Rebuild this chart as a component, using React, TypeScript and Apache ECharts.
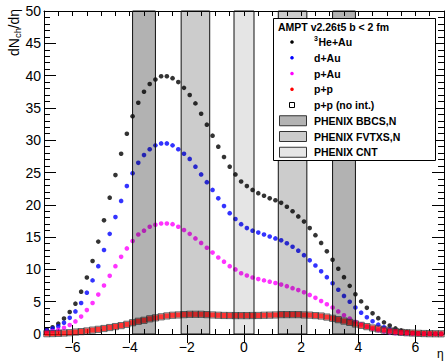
import React, { useEffect, useRef } from "react";
import * as echarts from "echarts";

const FONT = "'Liberation Sans', Arial, Helvetica, sans-serif";

// pseudorapidity bin centres
const eta = [
  -6.9, -6.7, -6.5, -6.3, -6.1, -5.9, -5.7, -5.5, -5.3, -5.1,
  -4.9, -4.7, -4.5, -4.3, -4.1, -3.9, -3.7, -3.5, -3.3, -3.1,
  -2.9, -2.7, -2.5, -2.3, -2.1, -1.9, -1.7, -1.5, -1.3, -1.1,
  -0.9, -0.7, -0.5, -0.3, -0.1, 0.1, 0.3, 0.5, 0.7, 0.9,
  1.1, 1.3, 1.5, 1.7, 1.9, 2.1, 2.3, 2.5, 2.7, 2.9,
  3.1, 3.3, 3.5, 3.7, 3.9, 4.1, 4.3, 4.5, 4.7, 4.9,
  5.1, 5.3, 5.5, 5.7, 5.9, 6.1, 6.3, 6.5, 6.7, 6.9,
];

const heAu = [
  0.7, 1.05, 1.6, 2.4, 3.4, 4.7, 6.55, 8.75, 11.3, 14.3,
  17.6, 21.1, 24.6, 27.9, 31.0, 33.7, 35.8, 37.5, 38.7, 39.4,
  39.9, 39.9, 39.6, 39.0, 38.1, 37.0, 35.7, 34.1, 32.4, 30.7,
  29.0, 27.4, 25.9, 24.7, 23.6, 22.9, 22.3, 21.8, 21.4, 21.0,
  20.7, 20.3, 19.7, 19.0, 18.2, 17.4, 16.4, 15.3, 14.1, 12.8,
  11.5, 10.1, 8.8, 7.45, 6.15, 5.05, 4.05, 3.2, 2.45, 1.8,
  1.3, 0.87, 0.56, 0.34, 0.2, 0.12, 0.08, 0.05, 0.03, 0.02,
];

const dAu = [
  0.55, 0.85, 1.2, 1.75, 2.5, 3.5, 4.8, 6.4, 8.3, 10.5,
  13.0, 15.5, 18.1, 20.6, 22.9, 24.9, 26.5, 27.7, 28.6, 29.2,
  29.5, 29.5, 29.2, 28.6, 27.9, 27.1, 25.9, 24.7, 23.5, 22.3,
  21.0, 19.8, 18.7, 17.8, 17.0, 16.4, 16.0, 15.7, 15.4, 15.1,
  14.8, 14.5, 14.05, 13.5, 12.9, 12.2, 11.4, 10.6, 9.7, 8.8,
  7.85, 6.85, 5.9, 5.0, 4.1, 3.3, 2.6, 1.97, 1.45, 1.04,
  0.72, 0.48, 0.3, 0.19, 0.12, 0.07, 0.04, 0.03, 0.02, 0.01,
];

const pAu = [
  0.35, 0.45, 0.65, 0.95, 1.4, 1.95, 2.7, 3.7, 4.8, 6.1,
  7.5, 9.0, 10.5, 11.95, 13.25, 14.4, 15.4, 16.0, 16.6, 16.9,
  17.1, 17.1, 17.0, 16.6, 16.1, 15.5, 14.8, 14.1, 13.35, 12.6,
  11.85, 11.2, 10.5, 10.0, 9.4, 9.05, 8.75, 8.5, 8.3, 8.1,
  7.9, 7.65, 7.4, 7.1, 6.8, 6.45, 6.05, 5.6, 5.1, 4.6,
  4.1, 3.5, 2.9, 2.4, 1.9, 1.5, 1.13, 0.83, 0.57, 0.37,
  0.22, 0.13, 0.08, 0.05, 0.03, 0.02, 0.01, 0.01, 0.0, 0.0,
];

const pp = [
  0.05, 0.07, 0.1, 0.15, 0.2, 0.3, 0.37, 0.47, 0.6, 0.72,
  0.85, 1.0, 1.15, 1.3, 1.5, 1.75, 1.97, 2.12, 2.35, 2.5,
  2.66, 2.8, 2.9, 2.95, 3.0, 3.05, 3.05, 3.05, 3.0, 2.95,
  2.9, 2.87, 2.86, 2.85, 2.85, 2.85, 2.86, 2.87, 2.9, 2.92,
  2.95, 3.0, 3.0, 3.0, 3.0, 2.95, 2.92, 2.85, 2.78, 2.62,
  2.43, 2.22, 2.0, 1.8, 1.55, 1.34, 1.14, 0.93, 0.78, 0.62,
  0.47, 0.36, 0.26, 0.2, 0.15, 0.1, 0.07, 0.05, 0.04, 0.03,
];

const ppNoInt = [
  0.05, 0.07, 0.1, 0.15, 0.2, 0.3, 0.37, 0.47, 0.6, 0.72,
  0.85, 1.0, 1.15, 1.3, 1.5, 1.75, 1.97, 2.12, 2.35, 2.5,
  2.66, 2.8, 2.9, 2.95, 3.0, 3.05, 3.05, 3.05, 3.0, 2.95,
  2.9, 2.87, 2.86, 2.85, 2.85, 2.85, 2.86, 2.87, 2.9, 2.92,
  2.95, 3.0, 3.0, 3.0, 3.0, 2.95, 2.92, 2.85, 2.78, 2.62,
  2.43, 2.22, 2.0, 1.8, 1.55, 1.34, 1.14, 0.93, 0.78, 0.62,
  0.47, 0.36, 0.26, 0.2, 0.15, 0.1, 0.07, 0.05, 0.04, 0.03,
];

// PHENIX acceptance bands [etaMin, etaMax]
const bbcBands = [[-3.9, -3.1], [3.1, 3.9]];
const fvtxBands = [[-2.2, -1.2], [1.2, 2.2]];
const cntBands = [[-0.35, 0.35]];

const xLabelValues = [-6, -4, -2, 0, 2, 4, 6];
const X_MIN = -7;
const X_MAX = 7;
const Y_MIN = 0;
const Y_MAX = 50;

function pts(ys: number[]) {
  return eta.map((x, i) => [x, ys[i]]);
}

function bandSeries(name: string, bands: number[][], alpha: number) {
  return {
    type: "custom",
    name,
    silent: true,
    z: 5,
    xAxisIndex: 0,
    yAxisIndex: 0,
    encode: { x: [0, 1] },
    data: bands.map((b) => [b[0], b[1]]),
    renderItem: (_params: any, api: any) => {
      const p0 = api.coord([api.value(0), Y_MAX]);
      const p1 = api.coord([api.value(1), Y_MIN]);
      return {
        type: "rect",
        shape: { x: p0[0], y: p0[1], width: p1[0] - p0[0], height: p1[1] - p0[1] },
        style: { fill: `rgba(0,0,0,${alpha})`, stroke: "#111", lineWidth: 1 },
      };
    },
  };
}

const fmt = (v: number) => (v < 0 ? "\u2212" + -v : String(v));

export default function App() {
  const ref = useRef<HTMLDivElement>(null);
  useEffect(() => {
    document.body.style.margin = "0";
    const chart = echarts.init(ref.current!, null, { renderer: "svg" });

    const xBase = {
      type: "value",
      min: X_MIN,
      max: X_MAX,
      interval: 0.5,
      splitLine: { show: false },
    };
    const yBase = {
      type: "value",
      min: Y_MIN,
      max: Y_MAX,
      interval: 5,
      splitLine: { show: false },
    };
    const line = { show: true, onZero: false, lineStyle: { color: "#000", width: 1 } };
    const tickStyle = { color: "#000", width: 1 };

    const rowY = [42, 57.75, 73.5, 89.25, 105, 120.75, 136.5, 152.25];
    const textX = 314;
    const markX = 292;
    const tstyle = (text: string, y: number, x = textX, size = 10.5) => ({
      type: "text",
      x,
      y,
      z: 102,
      style: {
        text,
        fill: "#000",
        font: `bold ${size}px ${FONT}`,
        fontSize: size,
        fontWeight: "bold",
        fontFamily: FONT,
        align: "left",
        textAlign: "left",
        verticalAlign: "middle",
        textVerticalAlign: "middle",
      },
    });
    const dot = (y: number, color: string) => ({
      type: "circle",
      z: 102,
      shape: { cx: markX, cy: y, r: 1.8 },
      style: { fill: color },
    });
    const swatch = (y: number, color: string) => ({
      type: "rect",
      z: 102,
      shape: { x: 279.5, y: y - 5, width: 27, height: 10 },
      style: { fill: color, stroke: "#333", lineWidth: 1 },
    });

    const option: any = {
      animation: false,
      backgroundColor: "#fff",
      grid: { left: 44, right: 2, top: 11, bottom: 27, show: false },
      xAxis: [
        {
          ...xBase,
          position: "bottom",
          axisLine: line,
          axisTick: { show: true, inside: true, length: 5, lineStyle: tickStyle },
          axisLabel: {
            show: true,
            customValues: xLabelValues,
            formatter: fmt,
            color: "#000",
            fontSize: 14,
            fontFamily: FONT,
            margin: 6,
          },
        },
        {
          ...xBase,
          position: "bottom",
          axisLine: { show: false },
          axisTick: { show: true, inside: true, length: 9, customValues: xLabelValues, lineStyle: tickStyle },
          axisLabel: { show: false },
        },
        {
          ...xBase,
          position: "top",
          axisLine: line,
          axisTick: { show: true, inside: true, length: 5, lineStyle: tickStyle },
          axisLabel: { show: false },
        },
        {
          ...xBase,
          position: "top",
          axisLine: { show: false },
          axisTick: { show: true, inside: true, length: 9, customValues: xLabelValues, lineStyle: tickStyle },
          axisLabel: { show: false },
        },
      ],
      yAxis: [
        {
          ...yBase,
          position: "left",
          axisLine: line,
          axisTick: { show: true, inside: true, length: 12, lineStyle: tickStyle },
          minorTick: { show: true, splitNumber: 5, length: 6, lineStyle: tickStyle },
          axisLabel: { show: true, color: "#000", fontSize: 14, fontFamily: FONT, margin: 3 },
        },
        {
          ...yBase,
          position: "right",
          axisLine: line,
          axisTick: { show: true, inside: true, length: 12, lineStyle: tickStyle },
          minorTick: { show: true, splitNumber: 5, length: 6, lineStyle: tickStyle },
          axisLabel: { show: false },
        },
      ],
      series: [
        {
          type: "scatter", name: "3He+Au", data: pts(heAu), symbol: "circle", symbolSize: 4.6,
          itemStyle: { color: "#000" }, z: 2,
        },
        {
          type: "scatter", name: "d+Au", data: pts(dAu), symbol: "circle", symbolSize: 4.6,
          itemStyle: { color: "#0000ff" }, z: 2,
        },
        {
          type: "scatter", name: "p+Au", data: pts(pAu), symbol: "circle", symbolSize: 4.6,
          itemStyle: { color: "#ff00ff" }, z: 2,
        },
        {
          type: "scatter", name: "p+p", data: pts(pp), symbol: "rect", symbolSize: 5.2,
          itemStyle: { color: "#ff0000" }, z: 2,
        },
        {
          type: "scatter", name: "p+p (no int.)", data: pts(ppNoInt), symbol: "rect", symbolSize: 6.2,
          itemStyle: { color: "rgba(0,0,0,0)", borderColor: "#333", borderWidth: 0.9 }, z: 3,
        },
        bandSeries("PHENIX BBCS,N", bbcBands, 0.3),
        bandSeries("PHENIX FVTXS,N", fvtxBands, 0.2),
        bandSeries("PHENIX CNT", cntBands, 0.1),
      ],
      graphic: [
        {
          type: "rect",
          z: 100,
          shape: { x: 273.5, y: 18.5, width: 162, height: 142 },
          style: { fill: "#fff", stroke: "#000", lineWidth: 1 },
        },
        tstyle("AMPT v2.26t5 b < 2 fm", 26.5, 278),
        dot(rowY[0], "#000"),
        tstyle("3", rowY[0] - 4, textX, 7),
        tstyle("He+Au", rowY[0], textX + 4.5),
        dot(rowY[1], "#0000ff"),
        tstyle("d+Au", rowY[1]),
        dot(rowY[2], "#ff00ff"),
        tstyle("p+Au", rowY[2]),
        dot(rowY[3], "#ff0000"),
        tstyle("p+p", rowY[3]),
        {
          type: "rect",
          z: 102,
          shape: { x: markX - 2.5, y: rowY[4] - 2.5, width: 5, height: 5 },
          style: { fill: "#fff", stroke: "#000", lineWidth: 1 },
        },
        tstyle("p+p (no int.)", rowY[4]),
        swatch(rowY[5], "#b3b3b3"),
        tstyle("PHENIX BBCS,N", rowY[5]),
        swatch(rowY[6], "#cccccc"),
        tstyle("PHENIX FVTXS,N", rowY[6]),
        swatch(rowY[7], "#e6e6e6"),
        tstyle("PHENIX CNT", rowY[7]),
        {
          type: "group",
          x: 14,
          y: 56,
          rotation: Math.PI / 2,
          z: 102,
          children: [
            { type: "text", x: 0, y: 0, style: { text: "dN", fill: "#000", fontSize: 14, fontFamily: FONT, verticalAlign: "middle", textVerticalAlign: "middle" } },
            { type: "text", x: 18, y: 3.5, style: { text: "ch", fill: "#000", fontSize: 9.5, fontFamily: FONT, verticalAlign: "middle", textVerticalAlign: "middle" } },
            { type: "text", x: 27.5, y: 0, style: { text: "/d\u03b7", fill: "#000", fontSize: 14, fontFamily: FONT, verticalAlign: "middle", textVerticalAlign: "middle" } },
          ],
        },
        {
          type: "text",
          x: 437,
          y: 354,
          z: 102,
          style: { text: "\u03b7", fill: "#000", fontSize: 12, fontFamily: FONT, verticalAlign: "middle", textVerticalAlign: "middle" },
        },
      ],
    };

    chart.setOption(option);
    return () => chart.dispose();
  }, []);

  return (
    <div
      ref={ref}
      style={{ position: "absolute", left: 0, top: 0, width: 446, height: 361, background: "#fff" }}
    />
  );
}
